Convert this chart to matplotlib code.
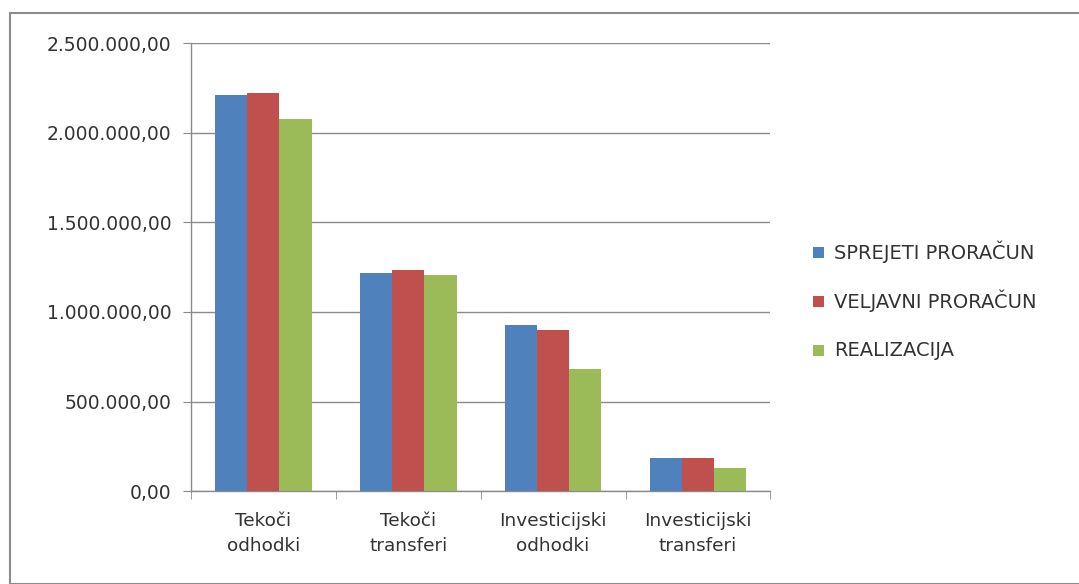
import matplotlib
matplotlib.use("Agg")
import matplotlib.pyplot as plt
from matplotlib.patches import Rectangle
import numpy as np

categories = ["Tekoči\nodhodki", "Tekoči\ntransferi", "Investicijski\nodhodki", "Investicijski\ntransferi"]
series_names = ["SPREJETI PRORAČUN", "VELJAVNI PRORAČUN", "REALIZACIJA"]
sprejeti = [2212000, 1220000, 925000, 186000]
veljavni = [2223000, 1232000, 897000, 186000]
realizacija = [2078000, 1209000, 679000, 130000]
yticks = [0, 500000, 1000000, 1500000, 2000000, 2500000]
ytick_labels = ["0,00", "500.000,00", "1.000.000,00", "1.500.000,00", "2.000.000,00", "2.500.000,00"]
colors = ["#4F81BD", "#C0504D", "#9BBB59"]

plt.rcParams['font.family'] = ['DejaVu Sans']

W, H = 1079, 584
fig = plt.figure(figsize=(W / 100, H / 100), dpi=100)
fig.patches.append(Rectangle((0.009, 0.0), 0.995, 0.978, transform=fig.transFigure,
                             fill=False, edgecolor="#8c8c8c", linewidth=1.5))
ax = fig.add_axes([0.177, 0.159, 0.537, 0.767])

x = np.arange(len(categories))
w = 0.222
for i, (vals, name) in enumerate(zip([sprejeti, veljavni, realizacija], series_names)):
    ax.bar(x + (i - 1) * w, vals, width=w, color=colors[i], label=name, zorder=3)

ax.set_xlim(-0.5, len(categories) - 0.5)
ax.set_ylim(0, 2500000)
ax.set_yticks(yticks)
ax.set_yticklabels(ytick_labels, fontsize=13.5, color="#333333")
ax.yaxis.grid(True, color="#8a8a8a", linewidth=1.0, zorder=0)
ax.set_xticks(x)
ax.set_xticklabels(categories, fontsize=13.3, color="#333333", linespacing=1.5)
ax.set_xticks(np.arange(-0.5, len(categories), 1.0), minor=True)
ax.tick_params(axis="x", which="major", length=0, pad=15)
ax.tick_params(axis="x", which="minor", length=6, color="#8a8a8a")
ax.tick_params(axis="y", length=6, color="#8a8a8a", pad=8)
for s in ["top", "right"]:
    ax.spines[s].set_visible(False)
for s in ["left", "bottom"]:
    ax.spines[s].set_color("#8a8a8a")
    ax.spines[s].set_linewidth(1.0)

# legend, drawn manually for even row spacing
row_y = [252, 301, 350]
for name, col, yy in zip(series_names, colors, row_y):
    fig.patches.append(Rectangle((813 / W, 1 - (yy + 5.5) / H), 11 / W, 11 / H,
                                 transform=fig.transFigure, facecolor=col, edgecolor="none"))
    fig.text(834 / W, 1 - yy / H, name, fontsize=14, color="#333333", va="center", ha="left")

fig.savefig("out.png", dpi=100)
